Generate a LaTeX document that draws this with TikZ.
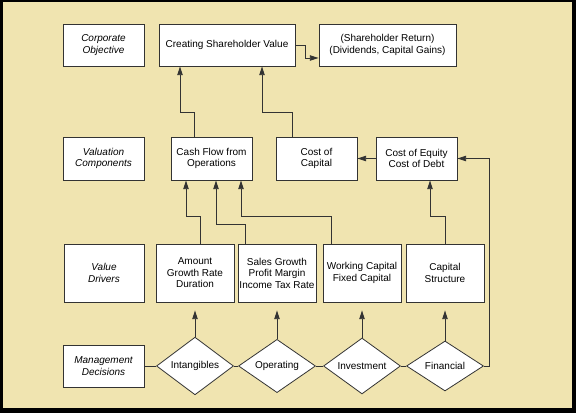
\documentclass[tikz,border=0pt]{standalone}
\usepackage{fontspec}
\setmainfont{Liberation Sans}
\usetikzlibrary{shapes.geometric,arrows.meta,calc}
\definecolor{sfondo}{HTML}{F0E4B0}
\definecolor{linea}{HTML}{333333}

\begin{document}
\begin{tikzpicture}[x=0.75pt,y=-0.75pt,
    font=\fontsize{7.5}{8.6}\selectfont,
    box/.style={draw=linea, fill=white, line width=0.6pt, align=center, inner sep=1pt},
    scelta/.style={diamond, draw=linea, fill=white, line width=0.6pt, inner sep=0pt,
        minimum width=57.75pt, minimum height=37.5pt},
    freccia/.style={draw=linea, line width=0.6pt, -{Triangle[length=6.5pt,width=4pt]}},
    filo/.style={draw=linea, line width=0.6pt}]
    % Sfondo
    \fill[black] (0,0) rectangle (576,413);
    \fill[sfondo] (3,2) rectangle (572,408);

    % Riga 1
    \node[box, minimum width=60.75pt, minimum height=31.5pt, font=\fontsize{7.5}{8.6}\selectfont\itshape] (corp) at (103.5,45) {Corporate\\Objective};
    \node[box, minimum width=102pt, minimum height=31.5pt] (csv) at (227,45) {Creating Shareholder Value};
    \node[box, minimum width=102.75pt, minimum height=31.5pt] (ret) at (387.5,45) {(Shareholder Return)\\(Dividends, Capital Gains)};

    % Riga 2
    \node[box, minimum width=60.75pt, minimum height=32.25pt, font=\fontsize{7.5}{8.6}\selectfont\itshape] (val) at (103.5,158.5) {Valuation\\Components};
    \node[box, minimum width=60.75pt, minimum height=32.25pt] (cfo) at (211.5,158.5) {Cash Flow from\\Operations};
    \node[box, minimum width=60.75pt, minimum height=32.25pt] (coc) at (316.5,158.5) {Cost of\\Capital};
    \node[box, minimum width=60.75pt, minimum height=32.25pt] (coe) at (416.5,158.5) {Cost of Equity\\Cost of Debt};

    % Riga 3
    \node[box, minimum width=60pt, minimum height=43.5pt, font=\fontsize{7.5}{8.6}\selectfont\itshape] (vd) at (104,273) {Value\\Drivers};
    \node[box, minimum width=58.5pt, minimum height=43.5pt] (amt) at (195,273) {Amount\\Growth Rate\\Duration};
    \node[box, minimum width=58.5pt, minimum height=43.5pt] (sales) at (277,273) {Sales Growth\\Profit Margin\\Income Tax Rate};
    \node[box, minimum width=58.5pt, minimum height=43.5pt] (work) at (362,273) {Working Capital\\Fixed Capital};
    \node[box, minimum width=58.5pt, minimum height=43.5pt] (cap) at (445,273) {Capital\\Structure};

    % Riga 4
    \node[box, minimum width=60.75pt, minimum height=31.5pt, font=\fontsize{7.5}{8.6}\selectfont\itshape] (md) at (103.5,366) {Management\\Decisions};
    \node[scelta] (int) at (195,366) {Intangibles};
    \node[scelta] (ope) at (277,366) {Operating};
    \node[scelta] (inv) at (362,366) {Investment};
    \node[scelta] (fin) at (445,366) {Financial};

    % Collegamenti decisioni
    \draw[filo] (md.east) -- (int.west);
    \draw[filo] (int.east) -- (ope.west);
    \draw[filo] (ope.east) -- (inv.west);
    \draw[filo] (inv.east) -- (fin.west);
    \foreach \d/\b in {int/amt, ope/sales, inv/work, fin/cap}
        \draw[freccia, shorten >=6pt] (\d) -- (\b);
    \draw[freccia] (fin.east) -- ++(5,0) |- (coe.east);

    % Driver -> componenti
    \draw[freccia] ($(amt.north)+(5,0)$) -- ++(0,-27) -| ($(cfo.south)+(-25.5,0)$);
    \draw[freccia] ($(sales.north)+(-32,0)$) -- ++(0,-19) -| ($(cfo.south)+(4.5,0)$);
    \draw[freccia] ($(work.north)+(-31,0)$) -- ++(0,-27) -| ($(cfo.south)+(29.5,0)$);
    \draw[freccia] (cap.north) -- ++(0,-27) -| ($(coe.south)+(13.5,0)$);
    \draw[freccia] (coe.west) -- (coc.east);

    % Componenti -> obiettivo
    \draw[freccia] ($(cfo.north)+(-17.5,0)$) -- ++(0,-24) -| ($(csv.south)+(-47,0)$);
    \draw[freccia] ($(coc.north)+(-24.5,0)$) -- ++(0,-24) -| ($(csv.south)+(35,0)$);
    \draw[freccia] (csv.east) -- ++(10,0) |- ($(ret.west)+(0,13)$);
\end{tikzpicture}
\end{document}
